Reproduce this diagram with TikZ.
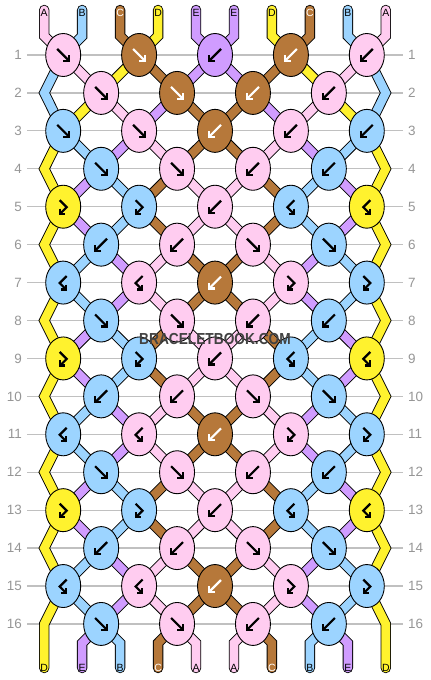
\documentclass[tikz,border=0pt]{standalone}
\usepackage{fontspec}
\setmainfont{Liberation Sans}
\usetikzlibrary{shapes.geometric}

\definecolor{cA}{RGB}{255,204,240}
\definecolor{cB}{RGB}{156,212,255}
\definecolor{cC}{RGB}{182,120,58}
\definecolor{cD}{RGB}{255,242,46}
\definecolor{cE}{RGB}{208,156,255}
\definecolor{gridgray}{RGB}{192,192,192}
\definecolor{numgray}{RGB}{150,150,150}
\definecolor{markgray}{RGB}{66,66,66}

\pgfdeclarelayer{back}
\pgfdeclarelayer{strings}
\pgfsetlayers{back,strings,main}

\tikzset{
    inkA/.style={black}, inkB/.style={black}, inkC/.style={white},
    inkD/.style={black}, inkE/.style={black},
    glyph/.style={line width=2.2bp, line join=miter},
    kf/.pic={\draw[glyph] (-6,-6) -- (6,6); \draw[glyph] (0,6) -- (6,6) -- (6,0);},
    kb/.pic={\draw[glyph] (6,-6) -- (-6,6); \draw[glyph] (0,6) -- (-6,6) -- (-6,0);},
    kfb/.pic={\draw[glyph] (-3.5,-6.5) -- (3.5,0.5) -- (-3,7); \draw[glyph] (-3,2) -- (-3,7) -- (2,7);},
    kbf/.pic={\draw[glyph] (3.5,-6.5) -- (-3.5,0.5) -- (3,7); \draw[glyph] (3,2) -- (3,7) -- (-2,7);}
}

\begin{document}
\begin{tikzpicture}[
    x=1bp, y=-1bp,
    knot/.style={ellipse, draw, line width=0.9bp, fill=c#1, minimum width=35bp, minimum height=43bp, inner sep=0pt},
    thread/.style={draw=black, line width=0.9bp, double=c#1, double distance=8.6bp, line join=miter},
    threadend/.style={thread=#1, line cap=round},
    rownum/.style={text=numgray, font=\fontsize{13.5}{14}\selectfont, inner sep=0pt},
    endlabel/.style={font=\fontsize{10.5}{11}\selectfont, inner sep=0pt},
    gridline/.style={draw=gridgray, line width=1.2bp, shorten <=5bp, shorten >=5bp}
]
\useasboundingbox (0,0) rectangle (430,680);

% Row numbers
\foreach \rw in {1,...,16} {
    \pgfmathsetmacro\yy{55+37.93*(\rw-1)}
    \node[rownum, anchor=east] (nl-\rw) at (22,\yy) {\rw};
    \node[rownum, anchor=west] (nr-\rw) at (408,\yy) {\rw};
}

% Knots
\foreach \rw/\knots in {
    1/{A/kf,C/kf,E/kb,C/kb,A/kb}, 2/{A/kf,C/kf,C/kb,A/kb},
    3/{B/kf,A/kf,C/kb,A/kb,B/kb}, 4/{B/kf,A/kf,A/kb,B/kb},
    5/{D/kfb,B/kfb,A/kb,B/kbf,D/kbf}, 6/{B/kb,A/kb,A/kf,B/kf},
    7/{B/kbf,A/kbf,C/kb,A/kfb,B/kfb}, 8/{B/kf,A/kf,A/kb,B/kb},
    9/{D/kfb,B/kfb,A/kb,B/kbf,D/kbf}, 10/{B/kb,A/kb,A/kf,B/kf},
    11/{B/kbf,A/kbf,C/kb,A/kfb,B/kfb}, 12/{B/kf,A/kf,A/kb,B/kb},
    13/{D/kfb,B/kfb,A/kb,B/kbf,D/kbf}, 14/{B/kb,A/kb,A/kf,B/kf},
    15/{B/kbf,A/kbf,C/kb,A/kfb,B/kfb}, 16/{B/kf,A/kf,A/kb,B/kb}} {
    \pgfmathsetmacro\yy{55+37.93*(\rw-1)}
    \foreach \col/\kt [count=\nx] in \knots {
        \pgfmathsetmacro\xx{isodd(\rw) ? 215+75.9*(\nx-3) : 215+75.9*(\nx-2.5)}
        \node[knot=\col] (k-\rw-\nx) at (\xx,\yy) {};
        \pic[ink\col] at (k-\rw-\nx) {\kt};
    }
    \ifodd\rw\else
        \coordinate (k-\rw-0) at (44.3,\yy);
        \coordinate (k-\rw-5) at (385.7,\yy);
    \fi
}

% String ends and letters
\foreach \col [count=\pos] in {A,B,C,D,E,E,D,C,B,A} {
    \pgfmathsetmacro\xx{215+37.95*(\pos-5.5)}
    \coordinate (top-\pos) at (\xx,10);
    \coordinate (topb-\pos) at (\xx,36);
    \node[endlabel, ink\col] (lt-\pos) at (\xx,12.5) {\col};
}
\foreach \col [count=\pos] in {D,E,B,C,A,A,C,B,E,D} {
    \pgfmathsetmacro\xx{215+37.95*(\pos-5.5)}
    \coordinate (botb-\pos) at (\xx,643);
    \coordinate (bot-\pos) at (\xx,668);
    \node[endlabel, ink\col] (lb-\pos) at (\xx,667.5) {\col};
}

\node[text=markgray, font=\bfseries\fontsize{16}{16}\selectfont] (mark) at (215,339) {\scalebox{0.86}[1]{BRACELETBOOK.COM}};

% Threads
\begin{pgfonlayer}{strings}
\foreach \col [count=\pos] in {A,B,C,D,E,E,D,C,B,A} {
    \pgfmathtruncatemacro\nx{(\pos+1)/2}
    \draw[threadend=\col] (top-\pos) -- (topb-\pos) -- (k-1-\nx.center);
}
\foreach \rw/\order in {
    1/{B,A,D,C,E,E,C,D,A,B}, 2/{B,D,A,E,C,C,E,A,D,B},
    3/{D,B,E,A,C,C,A,E,B,D}, 4/{D,E,B,C,A,A,C,B,E,D},
    5/{D,E,B,C,A,A,C,B,E,D}, 6/{D,B,E,A,C,C,A,E,B,D},
    7/{D,B,E,A,C,C,A,E,B,D}, 8/{D,E,B,C,A,A,C,B,E,D},
    9/{D,E,B,C,A,A,C,B,E,D}, 10/{D,B,E,A,C,C,A,E,B,D},
    11/{D,B,E,A,C,C,A,E,B,D}, 12/{D,E,B,C,A,A,C,B,E,D},
    13/{D,E,B,C,A,A,C,B,E,D}, 14/{D,B,E,A,C,C,A,E,B,D},
    15/{D,B,E,A,C,C,A,E,B,D}} {
    \pgfmathtruncatemacro\nr{\rw+1}
    \foreach \col [count=\pos] in \order {
        \ifnum\pos>1 \ifnum\pos<10
            \pgfmathtruncatemacro\ka{isodd(\rw) ? (\pos+1)/2 : \pos/2}
            \pgfmathtruncatemacro\kz{isodd(\nr) ? (\pos+1)/2 : \pos/2}
            \draw[thread=\col] (k-\rw-\ka.center) -- (k-\nr-\kz.center);
        \fi\fi
    }
}
% edge strings
\draw[thread=B] (k-1-1.center) -- (k-2-0) -- (k-3-1.center);
\draw[thread=B] (k-1-5.center) -- (k-2-5) -- (k-3-5.center);
\draw[threadend=D] (k-3-1.center) \foreach \ev/\od in {4/5,6/7,8/9,10/11,12/13,14/15} { -- (k-\ev-0) -- (k-\od-1.center) } -- (k-16-0) -- (bot-1);
\draw[threadend=D] (k-3-5.center) \foreach \ev/\od in {4/5,6/7,8/9,10/11,12/13,14/15} { -- (k-\ev-5) -- (k-\od-5.center) } -- (k-16-5) -- (bot-10);
\foreach \col [count=\pos] in {D,E,B,C,A,A,C,B,E,D} {
    \ifnum\pos>1 \ifnum\pos<10
        \pgfmathtruncatemacro\ka{\pos/2}
        \draw[threadend=\col] (k-16-\ka.center) -- (botb-\pos) -- (bot-\pos);
    \fi\fi
}
\end{pgfonlayer}

% Grid
\begin{pgfonlayer}{back}
\fill[white] (0,0) rectangle (430,680);
\foreach \rw in {1,...,16} \draw[gridline] (nl-\rw) -- (nr-\rw);
\end{pgfonlayer}

\end{tikzpicture}
\end{document}
